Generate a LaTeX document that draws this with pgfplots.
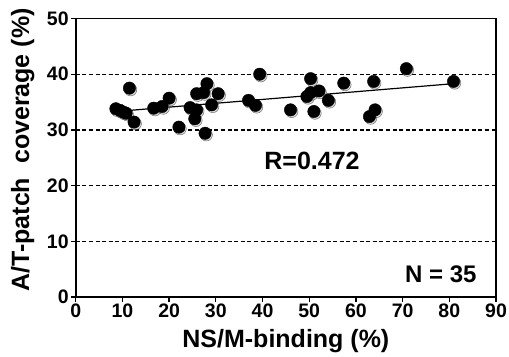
\documentclass[border=0pt]{standalone}
\usepackage{fontspec}
\setmainfont{Liberation Sans}
\usepackage{pgfplots}
\pgfplotsset{compat=1.18}
\begin{document}
\begin{tikzpicture}
\pgfplotstableread{
x y
8.6 33.8
9.5 33.5
10.2 33.2
10.8 33.0
11.5 37.5
12.5 31.4
16.7 33.9
18.5 34.2
20.0 35.7
22.1 30.5
24.5 34.0
25.5 32.0
25.9 33.6
25.9 36.5
27.4 36.7
28.1 38.3
27.7 29.4
29.1 34.5
30.5 36.5
37.0 35.3
38.5 34.4
39.4 40.0
46.0 33.6
49.5 36.0
50.3 39.2
50.3 36.7
51.0 33.3
52.1 37.0
54.1 35.3
57.4 38.4
62.9 32.4
63.8 38.7
64.1 33.6
70.8 41.0
80.9 38.7
}\pts
\begin{axis}[
  name=ax,
  scale only axis,
  width=420.3pt, height=278.5pt,
  xmin=0, xmax=90, ymin=0, ymax=50,
  xtick={0,10,...,90}, ytick={0,10,...,50},
  axis line style={line width=1.6pt},
  tick style={line width=1.3pt, black},
  tick align=outside, major tick length=4.5pt,
  xtick pos=bottom, ytick pos=left,
  /pgf/number format/assume math mode=true,
  ticklabel style={font=\fontsize{19.5}{19.5}\selectfont\bfseries},
  xticklabel style={yshift=1pt},
  yticklabel style={xshift=1pt},
  xlabel={NS/M-binding (\%)},
  ylabel={A/T-patch\ \ coverage (\%)},
  label style={font=\fontsize{25}{25}\selectfont\bfseries},
  xlabel style={anchor=center, at={(axis description cs:0.5,-0.158)}},
  ylabel style={anchor=center, rotate=0, at={(axis description cs:-0.126,0.528)}},
  ymajorgrids, grid style={line width=1.2pt, black, dash pattern=on 4pt off 2.6pt},
  clip=false,
]
\addplot[only marks, mark=*, mark size=6.2pt, draw=none, fill=black!25, opacity=0.6,
  every mark/.append style={xshift=1.2pt, yshift=-1.6pt}] table {\pts};
\addplot[black, line width=1.2pt] coordinates {(8.6,33.3) (80.9,38.3)};
\addplot[only marks, mark=*, mark size=6.2pt, mark options={black, fill=black}] table {\pts};
\node[font=\fontsize{25}{25}\selectfont\bfseries] at (axis cs:50.6,24.4) {R=0.472};
\node[font=\fontsize{24}{24}\selectfont\bfseries, anchor=east] at (axis cs:86.6,4.1) {N = 35};
\end{axis}
\pgfresetboundingbox
\path ([shift={(-75.7pt,-59pt)}]ax.south west) rectangle ([shift={(13pt,18.5pt)}]ax.north east);
\end{tikzpicture}
\end{document}
